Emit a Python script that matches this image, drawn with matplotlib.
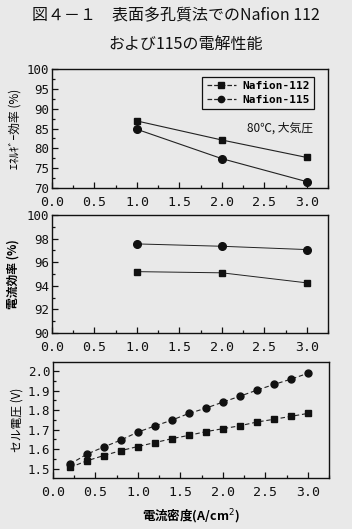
import matplotlib
matplotlib.use("Agg")
import matplotlib.pyplot as plt
from matplotlib.ticker import MultipleLocator, FormatStrFormatter

plt.rcParams['font.family'] = ['Noto Sans CJK JP', 'DejaVu Sans']

# Data
x_eff = [1.0, 2.0, 3.0]
energy_112 = [86.9, 82.1, 77.7]
energy_115 = [84.8, 77.4, 71.6]
current_112 = [95.2, 95.1, 94.25]
current_115 = [97.55, 97.35, 97.07]
x_v = [0.2, 0.4, 0.6, 0.8, 1.0, 1.2, 1.4, 1.6, 1.8, 2.0, 2.2, 2.4, 2.6, 2.8, 3.0]
volt_112 = [1.507, 1.541, 1.568, 1.593, 1.614, 1.634, 1.654, 1.671, 1.690, 1.705,
            1.720, 1.739, 1.753, 1.768, 1.783]
volt_115 = [1.524, 1.575, 1.612, 1.647, 1.688, 1.719, 1.749, 1.783, 1.810, 1.841,
            1.871, 1.902, 1.931, 1.958, 1.988]
labels = ['Nafion-112', 'Nafion-115']

BG = '#e9e9e9'
W, H = 352, 529
fig = plt.figure(figsize=(W/100, H/100), dpi=100, facecolor=BG)

def ax_at(l, t, r, b):
    return fig.add_axes([l/W, 1-b/H, (r-l)/W, (b-t)/H], facecolor=BG)

fig.text(176/W, 1-16/H, '図４－１　表面多孔質法でのNafion 112', ha='center', va='center',
         fontsize=11.5, color='#111111')
fig.text(186/W, 1-44/H, 'および115の電解性能', ha='center', va='center',
         fontsize=11.5, color='#111111')

ax1 = ax_at(52, 69, 328, 188)
ax2 = ax_at(52, 215, 328, 333)
ax3 = ax_at(53, 362, 329, 478)

def style(ax):
    ax.set_xlim(0, 3.25)
    ax.xaxis.set_major_locator(MultipleLocator(0.5))
    ax.xaxis.set_minor_locator(MultipleLocator(0.25))
    ax.xaxis.set_major_formatter(FormatStrFormatter('%.1f'))
    ax.tick_params(which='both', direction='in', colors='#111111', width=0.9)
    ax.tick_params(which='major', length=4)
    ax.tick_params(axis='x', which='major', pad=5.5, labelsize=9.5)
    ax.tick_params(axis='y', which='major', pad=2, labelsize=9)
    ax.tick_params(which='minor', length=2)
    for s in ax.spines.values():
        s.set_linewidth(1.0)
        s.set_color('#111111')
    for lab in ax.get_xticklabels() + ax.get_yticklabels():
        lab.set_family('DejaVu Sans Mono')

# Top: energy efficiency
ax1.plot(x_eff, energy_112, '-', color='#222222', lw=0.8, marker='s', ms=5,
         mfc='#111111', mec='#111111')
ax1.plot(x_eff, energy_115, '-', color='#222222', lw=0.8, marker='o', ms=5.5,
         mfc='#111111', mec='#111111')
ax1.set_ylim(70, 100)
ax1.yaxis.set_major_locator(MultipleLocator(5))
ax1.yaxis.set_minor_locator(MultipleLocator(2.5))
style(ax1)
ax1.set_ylabel('ｴﾈﾙｷﾞｰ効率 (%)', fontsize=8.5, labelpad=4)
h1, = ax1.plot([], [], '--', color='#222222', lw=0.9, marker='s', ms=4.5, mfc='#111111', mec='#111111')
h2, = ax1.plot([], [], '--', color='#222222', lw=0.9, marker='o', ms=4.5, mfc='#111111', mec='#111111')
leg = ax1.legend([h1, h2], labels, loc='upper right', bbox_to_anchor=(0.97, 0.98),
                 fontsize=8, frameon=True, fancybox=False, edgecolor='#111111',
                 facecolor=BG, framealpha=1, handlelength=2.6, borderpad=0.4,
                 labelspacing=0.3, handletextpad=0.6)
leg.get_frame().set_linewidth(0.9)
for t in leg.get_texts():
    t.set_family('DejaVu Sans Mono')
    t.set_fontweight('bold')
ax1.text(0.705, 0.5, '80℃, 大気圧', transform=ax1.transAxes, fontsize=8.5,
         ha='left', va='center', color='#111111')

# Middle: current efficiency
ax2.plot(x_eff, current_115, '-', color='#222222', lw=0.7, marker='o', ms=5.5,
         mfc='#111111', mec='#111111')
ax2.plot(x_eff, current_112, '-', color='#222222', lw=0.7, marker='s', ms=5,
         mfc='#111111', mec='#111111')
ax2.set_ylim(90, 100)
ax2.yaxis.set_major_locator(MultipleLocator(2))
ax2.yaxis.set_minor_locator(MultipleLocator(1))
style(ax2)
ax2.set_ylabel('電流効率 (%)', fontsize=8.5, labelpad=5, fontweight='bold')

# Bottom: cell voltage
ax3.plot(x_v, volt_115, '--', color='#222222', lw=0.8, marker='o', ms=5,
         mfc='#111111', mec='#111111', dashes=(4, 2.5))
ax3.plot(x_v, volt_112, '--', color='#222222', lw=0.8, marker='s', ms=4.5,
         mfc='#111111', mec='#111111', dashes=(4, 2.5))
ax3.set_ylim(1.453, 2.046)
ax3.yaxis.set_major_locator(MultipleLocator(0.1))
ax3.yaxis.set_minor_locator(MultipleLocator(0.05))
ax3.yaxis.set_major_formatter(FormatStrFormatter('%.1f'))
style(ax3)
ax3.set_ylabel('セル電圧 (V)', fontsize=8.5, labelpad=3)
ax3.set_xlabel('電流密度(A/cm$^2$)', fontsize=9, labelpad=6, fontweight='bold')

fig.savefig('out.png', dpi=100, facecolor=BG)
